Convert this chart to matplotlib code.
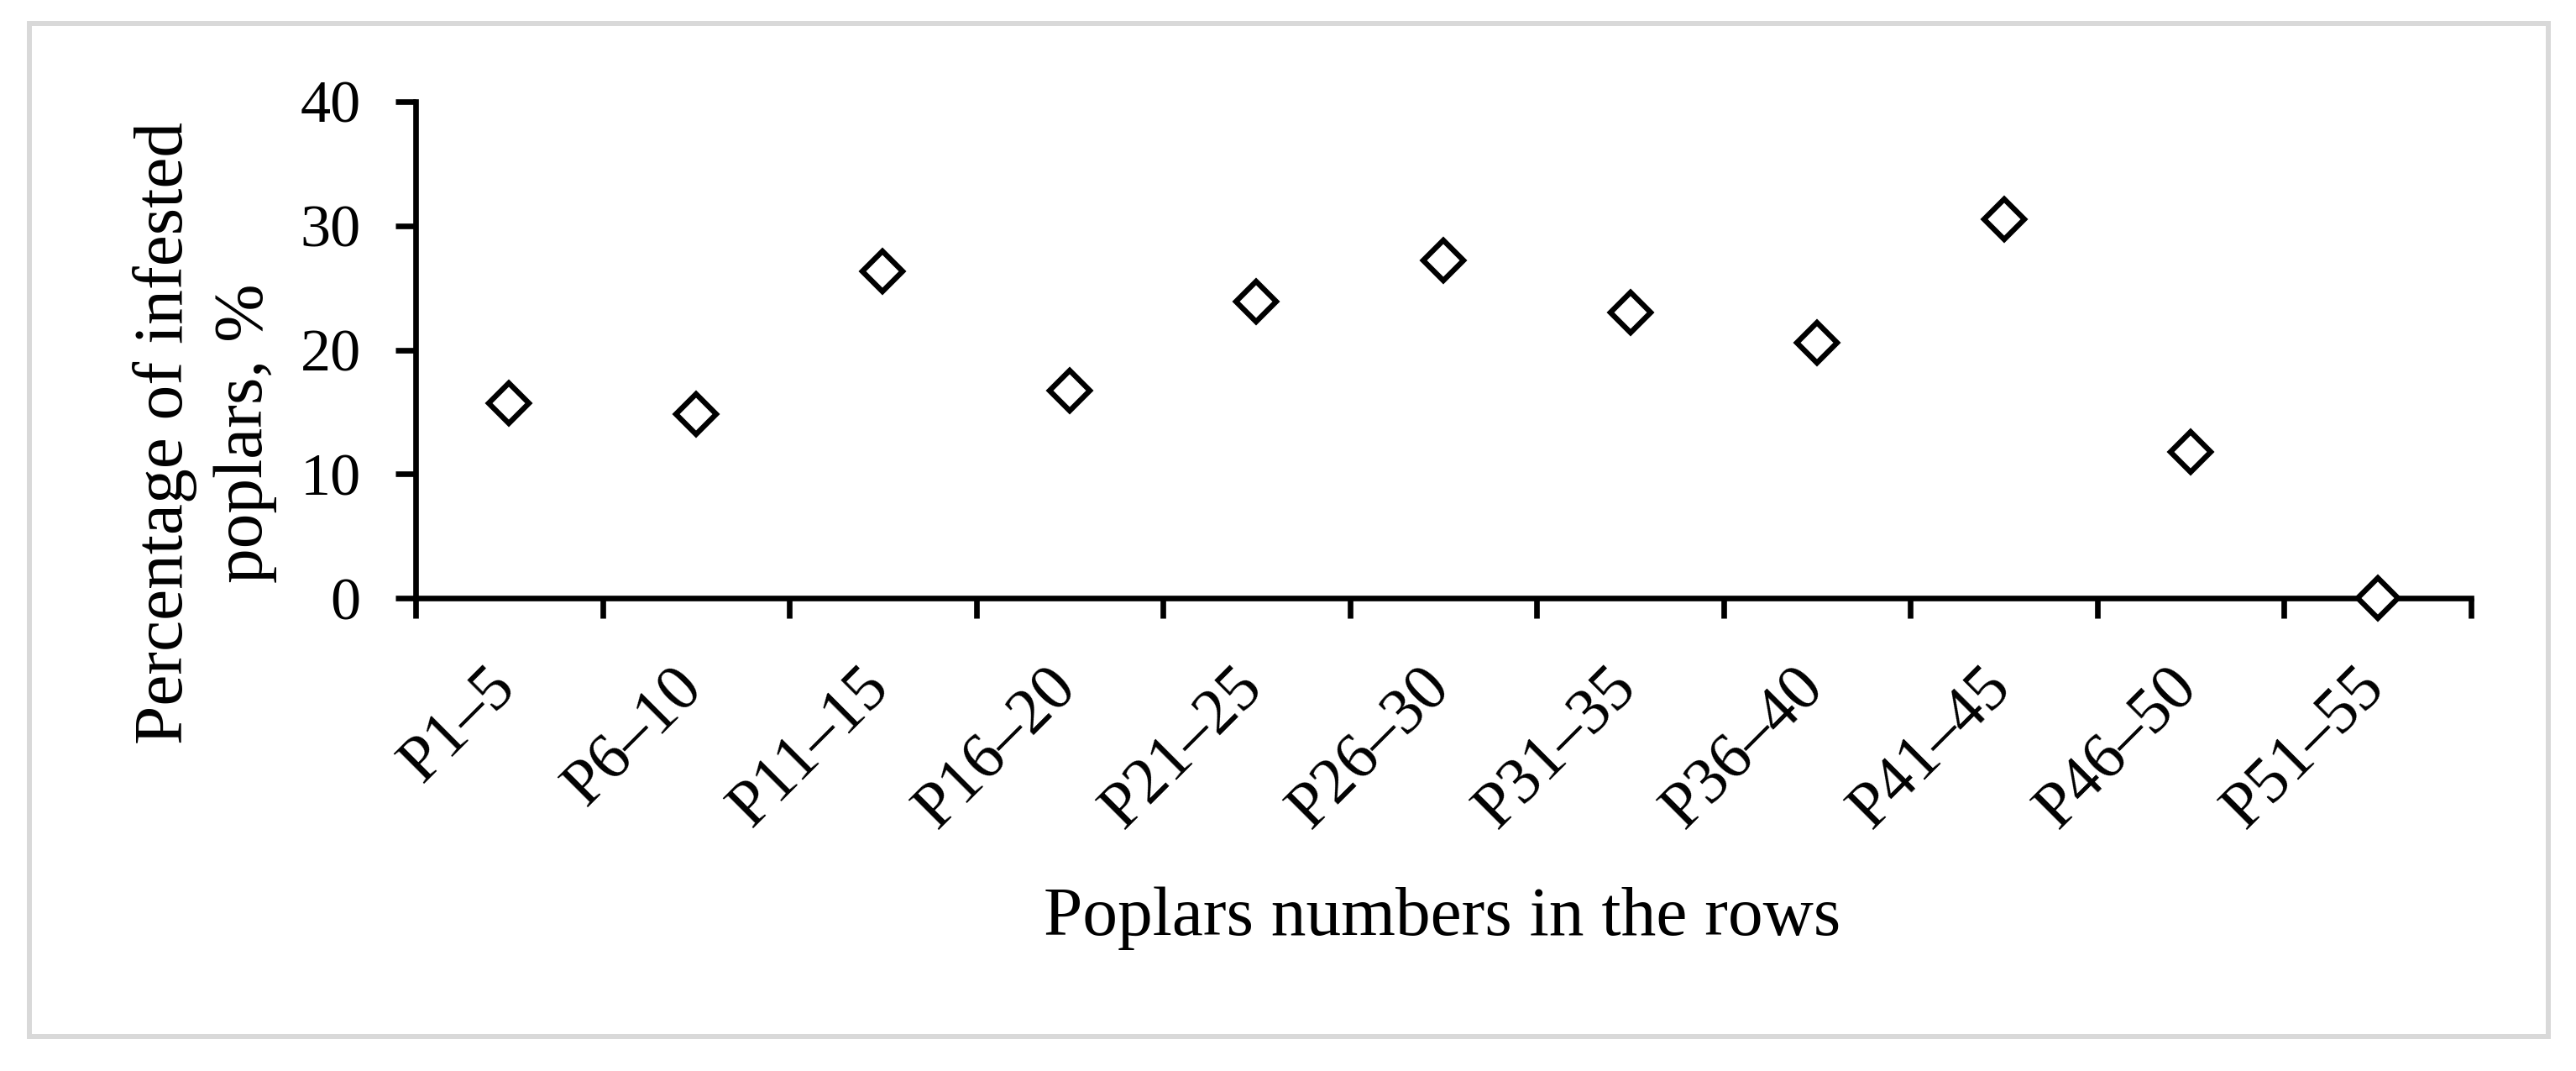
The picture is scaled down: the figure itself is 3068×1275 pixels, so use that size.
import numpy as np
import matplotlib.pyplot as plt
import matplotlib.transforms as mtransforms
from matplotlib.patches import Rectangle

# data
groups = ['P1–5', 'P6–10', 'P11–15', 'P16–20', 'P21–25', 'P26–30',
          'P31–35', 'P36–40', 'P41–45', 'P46–50', 'P51–55']
infested = [15.7, 14.8, 26.3, 16.7, 23.9, 27.2, 23.0, 20.6, 30.5, 11.8, 0.0]
yticks = [0, 10, 20, 30, 40]

plt.rcParams['font.family'] = ['Liberation Serif', 'DejaVu Serif']

W, H = 3068, 1275
fig = plt.figure(figsize=(W / 100, H / 100), dpi=100)
ax = fig.add_axes([495 / W, 1 - 712 / H, (2943 - 495) / W, (712 - 121) / H])

x = np.arange(len(groups)) + 0.5
ax.plot(x, infested, linestyle='none', marker='D', markersize=24,
        markerfacecolor='white', markeredgecolor='black', markeredgewidth=4.6,
        clip_on=False, zorder=3)

ax.set_xlim(0, len(groups))
ax.set_ylim(0, 40)

for s in ['top', 'right']:
    ax.spines[s].set_visible(False)
for s in ['left', 'bottom']:
    ax.spines[s].set_linewidth(4.8)

# boundary ticks (major) and centred labels (minor)
ax.set_xticks(np.arange(len(groups) + 1))
ax.set_xticklabels([])
ax.set_xticks(x, minor=True)
ax.set_xticklabels(groups, minor=True, rotation=45, ha='right', va='baseline',
                   rotation_mode='anchor', fontsize=56)
ax.tick_params(axis='x', which='major', direction='out', length=17, width=4.8)
ax.tick_params(axis='x', which='minor', length=0, pad=78)
offset = mtransforms.ScaledTranslation(0.10, 0, fig.dpi_scale_trans)
for lab in ax.get_xticklabels(minor=True):
    lab.set_transform(lab.get_transform() + offset)

ax.set_yticks(yticks)
ax.tick_params(axis='y', direction='out', length=17, width=4.8, pad=30,
               labelsize=52)

fig.text(1718 / W, 1 - 1113 / H, 'Poplars numbers in the rows', ha='center',
         va='baseline', fontsize=60)
# y title, two lines
fig.text(217 / W, 1 - 515 / H, 'Percentage of infested', rotation=90,
         rotation_mode='anchor', ha='center', va='baseline', fontsize=60)
fig.text(312 / W, 1 - 516 / H, 'poplars, %', rotation=90,
         rotation_mode='anchor', ha='center', va='baseline', fontsize=60)

# light grey frame around the chart
fig.patches.append(Rectangle((35 / W, 1 - 1234 / H), 3000 / W, (1234 - 28) / H,
                             transform=fig.transFigure, fill=False,
                             edgecolor='#d9d9d9', linewidth=4.3))

fig.savefig('out.png', dpi=100)
